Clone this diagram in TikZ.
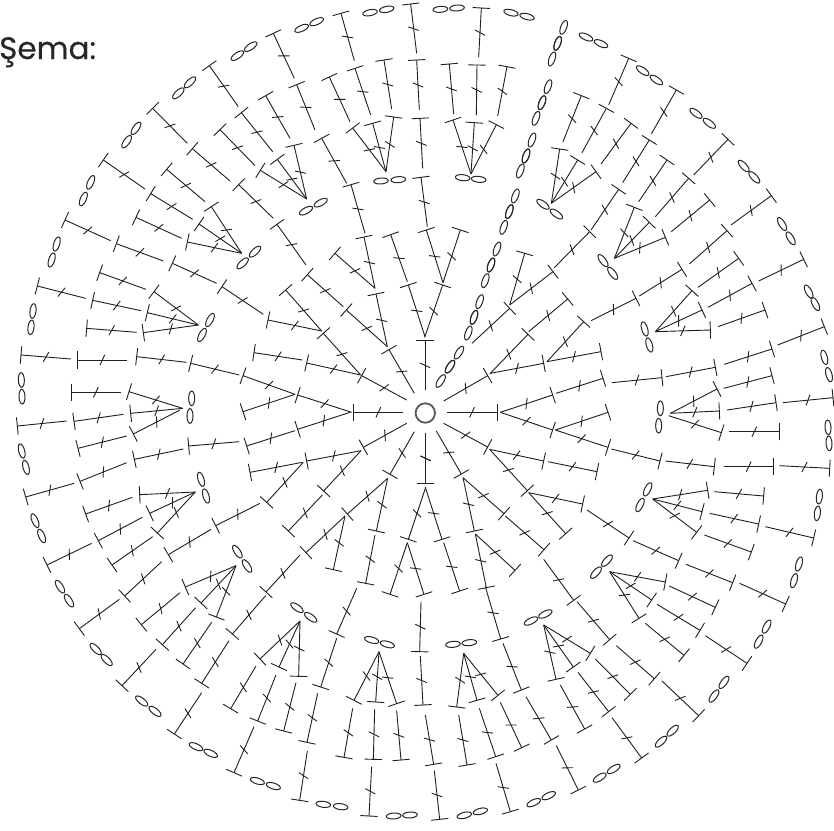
\documentclass[tikz,border=0pt]{standalone}
\usepackage{fontspec}
\setmainfont{Poppins}[FakeBold=0.25]
\tikzset{stitch/.style={line width=0.9pt,draw=black!88,line cap=butt},
 loopy/.style={line width=1pt,draw=black!85}}
\newcommand\dc[4]{%
 \pgfmathsetmacro\sAng{atan2((#4)-(#2),(#3)-(#1))}%
 \pgfmathsetmacro\sUx{cos(\sAng)}%
 \pgfmathsetmacro\sUy{sin(\sAng)}%
 \pgfmathsetmacro\sTx{cos(\sAng+115)}%
 \pgfmathsetmacro\sTy{sin(\sAng+115)}%
 \pgfmathsetmacro\sMx{0.5*(#1)+0.5*(#3)}%
 \pgfmathsetmacro\sMy{0.5*(#2)+0.5*(#4)}%
 \draw[stitch] (#1,#2) -- (#3,#4);
 \draw[stitch] ({#3-26*\sUy},{#4+26*\sUx}) -- ({#3+26*\sUy},{#4-26*\sUx});
 \draw[stitch] ({\sMx-17*\sTx},{\sMy-17*\sTy}) -- ({\sMx+17*\sTx},{\sMy+17*\sTy});
}
\newcommand\oneloop[3]{\draw[loopy,shift={(#1,#2)},rotate=#3] (0,0) ellipse (22 and 9);}
\newcommand\two[4]{%
 \pgfmathsetmacro\sAng{-atan2((#4)-(#2),(#3)-(#1))}%
 \oneloop{#1}{#2}{\sAng}\oneloop{#3}{#4}{\sAng}}
\newcommand\three[6]{\two{#1}{#2}{#3}{#4}\two{#3}{#4}{#5}{#6}}
\begin{document}
\begin{tikzpicture}[x=1pt,y=1pt]
\useasboundingbox (0,0) rectangle (834,-830);
\node[anchor=base west,inner sep=0pt,text=black!85,font=\fontsize{31}{34}\selectfont] (title) at (-1,-59) {Şema:};
\draw[line width=1.8pt,draw=black!65] (425.3,-413) circle (9.7);
% ---------- upper right
\begin{scope}[xshift=417pt,x=0.33333pt,y=-0.33333pt]
\dc{185}{172}{193}{24}
\two{70}{28}{120}{24}
\two{282}{38}{330}{50}
\three{440}{82}{422}{130}{405}{177}
\two{507}{111}{552}{131}
\dc{575}{315}{635}{175}
\two{677}{212}{718}{240}
\dc{703}{402}{778}{270}
\two{837}{340}{877}{370}
\dc{830}{525}{933}{418}
\two{980}{498}{1012}{532}
\dc{942}{675}{1063}{587}
\two{1095}{672}{1121}{715}
\dc{1025}{843}{1160}{778}
\two{1175}{875}{1195}{912}
\dc{1082}{1035}{1222}{980}
\two{1222}{1072}{1236}{1124}
\dc{1098}{1208}{1248}{1193}
\three{393}{260}{375}{308}{357}{355}
\three{345}{420}{327}{468}{310}{513}
\three{295}{588}{277}{635}{260}{682}
\three{240}{747}{222}{795}{205}{842}
\three{188}{905}{171}{952}{154}{999}
\three{126}{1058}{99}{1100}{71}{1143}
\dc{110}{342}{97}{192}
\dc{178}{345}{180}{195}
\dc{242}{348}{270}{200}
\dc{162}{522}{108}{360}
\dc{162}{522}{172}{368}
\dc{162}{522}{238}{374}
\two{137}{533}{185}{538}
\dc{78}{848}{28}{690}
\dc{78}{848}{130}{690}
\dc{23}{1012}{77}{855}
\dc{165}{1030}{278}{925}
\dc{278}{915}{408}{815}
\dc{278}{915}{323}{760}
\dc{412}{803}{518}{695}
\dc{522}{690}{605}{568}
\dc{617}{548}{697}{420}
\dc{552}{492}{642}{370}
\dc{495}{458}{568}{325}
\dc{438}{425}{493}{287}
\dc{403}{610}{428}{447}
\dc{403}{610}{482}{480}
\dc{403}{610}{537}{515}
\two{378}{613}{418}{642}
\dc{665}{605}{750}{480}
\dc{715}{650}{815}{535}
\dc{763}{695}{878}{600}
\dc{592}{775}{652}{622}
\dc{592}{775}{697}{667}
\dc{592}{775}{745}{712}
\two{558}{782}{587}{820}
\dc{817}{792}{930}{692}
\dc{667}{888}{795}{808}
\dc{843}{862}{965}{775}
\dc{522}{962}{657}{895}
\dc{873}{922}{1005}{850}
\dc{903}{980}{1044}{930}
\dc{715}{995}{825}{872}
\dc{715}{995}{855}{930}
\dc{715}{995}{880}{990}
\two{683}{987}{697}{1035}
\dc{80}{1203}{212}{1127}
\dc{218}{1122}{333}{1003}
\dc{335}{995}{452}{897}
\dc{220}{1120}{380}{1090}
\dc{390}{1085}{500}{965}
\dc{390}{1085}{552}{1055}
\dc{90}{1237}{240}{1237}
\dc{250}{1237}{407}{1185}
\dc{417}{1180}{558}{1135}
\dc{585}{1148}{735}{1133}
\dc{747}{1130}{895}{1102}
\dc{922}{1093}{1065}{1047}
\dc{920}{1165}{1065}{1127}
\dc{930}{1230}{1077}{1208}
\dc{760}{1240}{900}{1167}
\dc{760}{1240}{907}{1233}
\oneloop{730}{1225}{90}
\end{scope}
% ---------- upper left
\begin{scope}[x=0.33333pt,y=-0.33333pt]
\dc{1250}{160}{1232}{12}
\two{1110}{38}{1160}{28}
\dc{1063}{182}{1023}{40}
\two{905}{85}{950}{65}
\dc{883}{235}{820}{100}
\two{712}{167}{752}{140}
\dc{715}{320}{628}{197}
\two{535}{280}{570}{247}
\dc{562}{430}{458}{325}
\two{380}{425}{408}{385}
\dc{435}{567}{310}{480}
\two{250}{597}{272}{547}
\dc{332}{722}{195}{660}
\two{155}{780}{170}{732}
\dc{257}{895}{112}{858}
\two{93}{982}{99}{933}
\dc{213}{1077}{63}{1065}
\two{66}{1190}{64}{1140}
\dc{382}{1080}{232}{1080}
\dc{560}{1087}{410}{1070}
\dc{718}{1125}{572}{1090}
\dc{885}{1183}{729}{1127}
\dc{885}{1183}{729}{1235}
\dc{1055}{1237}{893}{1185}
\dc{1210}{1237}{1060}{1237}
\dc{1220}{1200}{1085}{1127}
\dc{1243}{1180}{1167}{1049}
\dc{1082}{1125}{920}{1089}
\dc{1082}{1125}{970}{1000}
\dc{907}{1080}{762}{1058}
\dc{965}{993}{804}{960}
\dc{965}{993}{857}{870}
\dc{790}{943}{666}{860}
\dc{650}{850}{517}{790}
\dc{490}{783}{349}{731}
\dc{725}{760}{562}{726}
\dc{725}{760}{597}{672}
\dc{725}{760}{634}{620}
\two{728}{790}{765}{755}
\dc{545}{715}{408}{652}
\dc{578}{658}{452}{581}
\dc{615}{605}{500}{508}
\dc{438}{868}{299}{818}
\dc{423}{932}{278}{901}
\dc{410}{997}{260}{985}
\dc{595}{975}{462}{875}
\dc{595}{975}{442}{938}
\dc{595}{975}{430}{998}
\two{606}{1005}{630}{960}
\dc{1162}{1040}{1128}{882}
\dc{1125}{865}{1092}{711}
\dc{1125}{865}{1005}{760}
\dc{1095}{700}{1053}{554}
\dc{1162}{1040}{1039}{930}
\dc{1030}{920}{922}{824}
\dc{918}{795}{831}{673}
\dc{820}{655}{716}{554}
\dc{690}{543}{577}{446}
\dc{1040}{550}{965}{415}
\dc{945}{390}{890}{254}
\dc{870}{415}{797}{287}
\dc{818}{455}{724}{338}
\dc{765}{497}{660}{389}
\dc{920}{597}{781}{511}
\dc{920}{597}{832}{478}
\dc{920}{597}{882}{436}
\two{918}{632}{962}{608}
\dc{1050}{365}{988}{231}
\dc{1112}{345}{1065}{205}
\dc{1175}{327}{1152}{180}
\dc{1158}{515}{1058}{384}
\dc{1158}{515}{1118}{370}
\dc{1158}{515}{1181}{351}
\two{1143}{543}{1195}{539}
\dc{1258}{330}{1250}{180}
\dc{1268}{505}{1260}{355}
\dc{1282}{680}{1263}{532}
\dc{1275}{1010}{1225}{855}
\dc{1222}{845}{1172}{704}
\dc{1275}{1170}{1275}{1022}
\dc{548}{1225}{387}{1175}
\dc{548}{1225}{392}{1240}
\dc{362}{1177}{213}{1177}
\oneloop{575}{1195}{90}
\end{scope}
% ---------- lower left
\begin{scope}[yshift=-410pt,x=0.33333pt,y=-0.33333pt]
\oneloop{570}{18}{90}
\dc{1277}{70}{1277}{220}
\dc{1220}{40}{1090}{112}
\dc{1243}{65}{1170}{193}
\dc{1083}{122}{920}{153}
\dc{1083}{122}{971}{243}
\dc{907}{157}{750}{187}
\dc{910}{157}{800}{277}
\dc{967}{255}{865}{363}
\dc{1163}{205}{1042}{312}
\dc{1163}{205}{1129}{363}
\dc{1035}{318}{918}{428}
\dc{1035}{318}{1000}{479}
\dc{1125}{375}{1097}{520}
\dc{900}{435}{798}{546}
\dc{1070}{535}{1010}{672}
\dc{1010}{685}{962}{831}
\dc{797}{557}{697}{672}
\dc{687}{692}{605}{820}
\dc{605}{848}{523}{972}
\dc{953}{850}{921}{997}
\dc{922}{1023}{899}{1171}
\dc{1115}{1070}{1107}{1218}
\dc{768}{768}{692}{896}
\dc{828}{795}{773}{933}
\dc{888}{818}{851}{963}
\dc{762}{950}{702}{1088}
\dc{1058}{895}{1032}{1042}
\dc{1124}{898}{1120}{1048}
\dc{1190}{902}{1203}{1050}
\dc{900}{633}{780}{747}
\dc{900}{633}{837}{771}
\dc{900}{633}{896}{799}
\two{891}{593}{932}{622}
\dc{1137}{725}{1062}{871}
\dc{1137}{725}{1127}{876}
\dc{1137}{725}{1190}{881}
\two{1115}{690}{1162}{703}
\dc{708}{467}{556}{531}
\dc{708}{467}{603}{579}
\dc{708}{467}{649}{621}
\two{712}{425}{741}{468}
\dc{540}{548}{424}{644}
\dc{587}{593}{487}{704}
\dc{635}{637}{549}{762}
\dc{468}{718}{366}{827}
\dc{485}{455}{374}{558}
\dc{358}{568}{238}{656}
\two{287}{717}{320}{750}
\two{425}{873}{465}{904}
\two{588}{1010}{632}{1030}
\two{772}{1113}{820}{1128}
\two{970}{1183}{1022}{1190}
\two{1181}{1218}{1230}{1215}
\two{180}{530}{207}{572}
\two{105}{332}{125}{378}
\two{65}{123}{78}{172}
\two{603}{208}{618}{258}
\dc{586}{246}{419}{254}
\dc{586}{246}{449}{310}
\dc{586}{246}{472}{369}
\dc{397}{262}{257}{312}
\dc{427}{322}{295}{392}
\dc{458}{380}{336}{465}
\dc{275}{400}{141}{465}
\dc{633}{358}{505}{434}
\dc{780}{280}{647}{347}
\dc{717}{95}{566}{108}
\dc{885}{62}{740}{108}
\dc{1050}{7}{893}{58}
\dc{550}{117}{403}{148}
\dc{380}{158}{240}{214}
\dc{222}{220}{77}{261}
\dc{380}{78}{234}{115}
\dc{370}{13}{222}{34}
\dc{200}{33}{52}{48}
\dc{540}{0}{400}{72}
\dc{1222}{398}{1170}{553}
\dc{1222}{398}{1272}{553}
\dc{1277}{232}{1225}{388}
\end{scope}
% ---------- lower right
\begin{scope}[xshift=417pt,yshift=-410pt,x=0.33333pt,y=-0.33333pt]
\dc{250}{7}{407}{60}
\dc{415}{60}{573}{7}
\dc{415}{60}{573}{112}
\dc{25}{232}{75}{388}
\dc{80}{398}{128}{543}
\dc{12}{575}{8}{725}
\dc{10}{738}{18}{885}
\dc{25}{915}{50}{1063}
\dc{52}{1082}{68}{1228}
\dc{125}{915}{150}{1065}
\dc{187}{895}{236}{1040}
\dc{250}{877}{314}{1013}
\dc{237}{1060}{280}{1205}
\dc{327}{860}{403}{990}
\dc{418}{1007}{484}{1140}
\dc{430}{825}{503}{957}
\dc{483}{787}{575}{905}
\dc{535}{747}{640}{853}
\dc{585}{923}{674}{1044}
\dc{598}{707}{712}{806}
\dc{735}{813}{845}{917}
\dc{685}{640}{801}{736}
\dc{720}{583}{849}{661}
\dc{865}{677}{990}{760}
\dc{757}{528}{895}{592}
\dc{968}{520}{1106}{582}
\dc{807}{463}{947}{518}
\dc{648}{392}{785}{452}
\dc{510}{300}{636}{384}
\dc{862}{375}{1003}{426}
\dc{1045}{350}{1190}{384}
\dc{878}{310}{1025}{342}
\dc{892}{245}{1040}{258}
\dc{745}{153}{892}{170}
\dc{920}{170}{1070}{170}
\dc{1087}{167}{1238}{175}
\dc{937}{65}{1087}{65}
\dc{583}{117}{729}{153}
\dc{707}{267}{872}{241}
\dc{707}{267}{855}{305}
\dc{707}{267}{839}{367}
\two{692}{238}{669}{285}
\two{1207}{260}{1201}{310}
\two{1233}{52}{1236}{100}
\oneloop{725}{47}{90}
\dc{755}{17}{913}{68}
\dc{80}{40}{212}{111}
\dc{218}{118}{380}{153}
\dc{218}{118}{331}{242}
\dc{393}{155}{540}{185}
\dc{335}{248}{497}{282}
\dc{335}{248}{446}{371}
\dc{58}{63}{133}{192}
\dc{138}{203}{172}{363}
\dc{138}{203}{261}{311}
\dc{265}{318}{381}{419}
\dc{175}{372}{208}{533}
\dc{175}{372}{294}{481}
\dc{380}{448}{470}{571}
\dc{480}{575}{578}{689}
\dc{205}{530}{251}{687}
\dc{258}{700}{313}{840}
\two{342}{633}{385}{612}
\dc{380}{645}{417}{808}
\dc{380}{645}{469}{771}
\dc{380}{645}{520}{730}
\two{108}{703}{157}{698}
\dc{140}{730}{119}{891}
\dc{140}{730}{180}{871}
\dc{140}{730}{243}{856}
\two{142}{1216}{190}{1204}
\two{350}{1178}{395}{1157}
\two{548}{1103}{590}{1077}
\two{732}{995}{767}{962}
\two{891}{858}{921}{817}
\two{1025}{695}{1049}{650}
\two{1131}{512}{1146}{462}
\two{537}{488}{570}{452}
\dc{578}{485}{745}{516}
\dc{578}{485}{704}{570}
\dc{578}{485}{666}{625}
\dc{25}{70}{25}{220}
\end{scope}
\end{tikzpicture}
\end{document}
